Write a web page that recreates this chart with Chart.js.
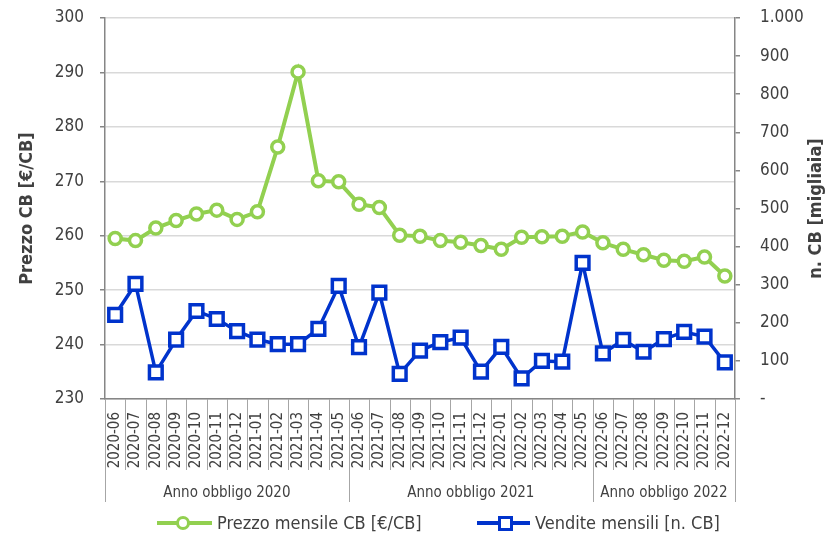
<!DOCTYPE html>
<html>
<head>
<meta charset="utf-8">
<script src="https://cdn.jsdelivr.net/npm/chart.js@4.4.1/dist/chart.umd.min.js"></script>
<style>
    html, body { margin: 0; padding: 0; background: #fff; }
    #wrap { position: relative; width: 829px; height: 534px; }
    #legend { position: absolute; left: 0; top: 511px; width: 829px; height: 24px;
              font: 18px 'DejaVu Sans Condensed', 'DejaVu Sans', sans-serif; color: #404040; }
    .txt { position: absolute; top: 0; line-height: 24px; white-space: nowrap; }
    .ln { position: absolute; top: 10px; height: 4px; }
    .mk { position: absolute; box-sizing: border-box; background: #fff; }
</style>
</head>
<body>
<div id="wrap">
    <canvas id="cb" width="829" height="534"></canvas>
    <div id="legend"></div>
</div>
<script>
"use strict";

const months = ["2020-06", "2020-07", "2020-08", "2020-09", "2020-10", "2020-11", "2020-12",
    "2021-01", "2021-02", "2021-03", "2021-04", "2021-05", "2021-06", "2021-07", "2021-08",
    "2021-09", "2021-10", "2021-11", "2021-12", "2022-01", "2022-02", "2022-03", "2022-04",
    "2022-05", "2022-06", "2022-07", "2022-08", "2022-09", "2022-10", "2022-11", "2022-12"];
const prezzo = [259.5, 259.1, 261.4, 262.8, 264.0, 264.7, 263.0, 264.4, 276.3, 290.1, 270.1, 269.9,
    265.8, 265.2, 260.1, 259.9, 259.1, 258.8, 258.2, 257.5, 259.7, 259.8, 259.9, 260.7,
    258.7, 257.5, 256.5, 255.5, 255.3, 256.1, 252.6];
const vendite = [221, 302, 70, 156, 231, 210, 178, 156, 144, 144, 184, 297,
    136, 279, 66, 127, 149, 161, 72, 137, 54, 100, 98, 357,
    120, 155, 124, 157, 176, 164, 96];
const groupLabels = ["Anno obbligo 2020", "Anno obbligo 2021", "Anno obbligo 2022"];
const groupSizes = [12, 12, 7];

const FONT = "'DejaVu Sans Condensed', 'DejaVu Sans', sans-serif";
const GREEN = "#92d050";
const BLUE = "#0033cc";
const TEXT = "#404040";
const AXIS = "#868686";

Chart.defaults.font.family = FONT;
Chart.defaults.color = TEXT;

// category separators, group labels and the right title (reads upward)
const axisDecor = {
    id: "axisDecor",
    afterDraw(chart) {
        const ctx = chart.ctx;
        const xs = chart.scales.x;
        const area = chart.chartArea;
        let edges = [0];
        groupSizes.forEach(function(s) { edges.push(edges[edges.length - 1] + s); });
        ctx.save();
        ctx.strokeStyle = "#a6a6a6";
        ctx.lineWidth = 1;
        for (let i = 0; i <= months.length; i++) {
            const x = Math.round(xs.getPixelForValue(i - 0.5)) + 0.5;
            const end = edges.includes(i) ? 502 : 470;
            ctx.beginPath();
            ctx.moveTo(x, area.bottom);
            ctx.lineTo(x, end);
            ctx.stroke();
        }
        ctx.fillStyle = TEXT;
        ctx.font = "15px " + FONT;
        ctx.textAlign = "center";
        ctx.textBaseline = "middle";
        for (let g = 0; g < groupLabels.length; g++) {
            const mid = (edges[g] + edges[g + 1] - 1) / 2;
            ctx.fillText(groupLabels[g], xs.getPixelForValue(mid), 493);
        }
        ctx.translate(816, (area.top + area.bottom) / 2);
        ctx.rotate(-Math.PI / 2);
        ctx.font = "bold 18px " + FONT;
        ctx.fillText("n. CB [migliaia]", 0, 0);
        ctx.restore();
    }
};

function fitY(width) {
    return function(s) {
        s.width = width;
        s.paddingTop = 0;
        s.paddingBottom = 0;
    };
}

const chart = new Chart(document.getElementById("cb"), {
    type: "line",
    data: {
        labels: months,
        datasets: [ {
            label: "Prezzo mensile CB [€/CB]",
            data: prezzo,
            yAxisID: "y",
            borderColor: GREEN,
            borderWidth: 4,
            pointStyle: "circle",
            pointRadius: 6,
            pointBorderWidth: 3.5,
            pointBackgroundColor: "#fff",
            pointBorderColor: GREEN,
            tension: 0
        }, {
            label: "Vendite mensili [n. CB]",
            data: vendite,
            yAxisID: "y2",
            borderColor: BLUE,
            borderWidth: 3.5,
            pointStyle: "rect",
            pointRadius: 9,
            pointBorderWidth: 3.5,
            pointBackgroundColor: "#fff",
            pointBorderColor: BLUE,
            tension: 0
        } ]
    },
    options: {
        responsive: false,
        animation: false,
        layout: { padding: { top: 18 } },
        plugins: {
            legend: { display: false },
            tooltip: { enabled: false }
        },
        scales: {
            x: {
                offset: true,
                grid: { display: true, drawOnChartArea: false, drawTicks: false },
                border: { color: AXIS, width: 1.5 },
                ticks: {
                    autoSkip: false,
                    minRotation: 90,
                    maxRotation: 90,
                    padding: 13,
                    font: { size: 15 },
                    color: TEXT
                },
                afterFit: function(s) { s.height = 135; }
            },
            y: {
                position: "left",
                min: 230,
                max: 300,
                ticks: { stepSize: 10, padding: 16, font: { size: 17 }, color: TEXT },
                grid: { color: "#d9d9d9", lineWidth: 1.5, tickLength: 5, tickColor: AXIS },
                border: { color: AXIS, width: 1.5 },
                title: {
                    display: true,
                    text: "Prezzo CB [€/CB]",
                    font: { size: 18, weight: "bold" },
                    color: TEXT,
                    padding: { top: 17, bottom: 0 }
                },
                afterFit: fitY(105)
            },
            y2: {
                position: "right",
                min: 0,
                max: 1000,
                ticks: {
                    stepSize: 100,
                    padding: 20,
                    font: { size: 17 },
                    color: TEXT,
                    callback: function(v) {
                        if (v === 0) return "-";
                        return v >= 1000 ? "1.000" : String(v);
                    }
                },
                grid: { drawOnChartArea: false, tickLength: 5, tickColor: AXIS, lineWidth: 1.5 },
                border: { color: AXIS, width: 1.5 },
                afterFit: fitY(94)
            }
        }
    },
    plugins: [ axisDecor ]
});

// legend drawn as html so it can sit where the original puts it
const legendItems = [
    { text: chart.data.datasets[0].label, color: GREEN, round: true, lineX: 157, lineW: 55, markX: 183, textX: 217 },
    { text: chart.data.datasets[1].label, color: BLUE, round: false, lineX: 477, lineW: 53, markX: 505, textX: 535 }
];
const legend = document.getElementById("legend");
legendItems.forEach(function(it) {
    const ln = document.createElement("div");
    ln.className = "ln";
    ln.style.left = it.lineX + "px";
    ln.style.width = it.lineW + "px";
    ln.style.background = it.color;
    legend.appendChild(ln);
    const mk = document.createElement("div");
    mk.className = "mk";
    const sz = it.round ? 14 : 15;
    mk.style.width = sz + "px";
    mk.style.height = sz + "px";
    mk.style.left = (it.markX - sz / 2) + "px";
    mk.style.top = (12 - sz / 2) + "px";
    mk.style.border = "3.5px solid " + it.color;
    if (it.round) mk.style.borderRadius = "50%";
    legend.appendChild(mk);
    const tx = document.createElement("span");
    tx.className = "txt";
    tx.style.left = it.textX + "px";
    tx.textContent = it.text;
    legend.appendChild(tx);
});
</script>
</body>
</html>
